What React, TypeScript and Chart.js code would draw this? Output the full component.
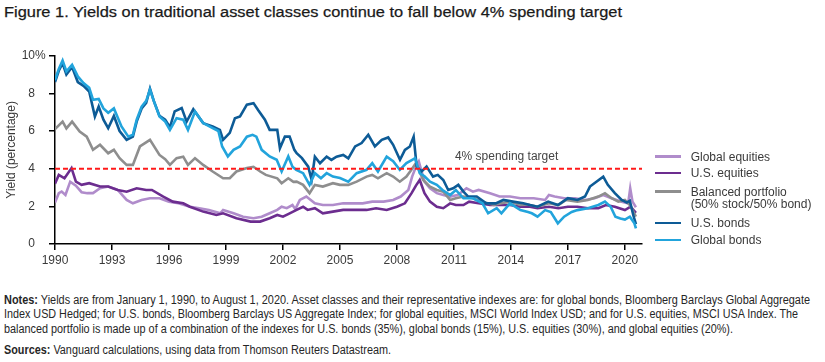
import React, { useEffect, useLayoutEffect, useRef } from "react";
import { Chart, registerables } from "chart.js";

Chart.register(...registerables);

// ---------- data (year, yield %) ----------
const yearTicks = [1990, 1993, 1996, 1999, 2002, 2005, 2008, 2011, 2014, 2017, 2020];
const yieldTicks = [0, 2, 4, 6, 8, 10];
const spendingTarget = 4;
const xStart = 1990;
const xEnd = 2020.9;

const globalEquities: [number, number][] = [
  [1990.0, 2.2], [1990.2, 2.7], [1990.35, 2.78], [1990.55, 2.6], [1990.8, 3.31], [1991.1, 3.1],
  [1991.4, 2.75], [1991.7, 2.7], [1992.0, 2.7], [1992.37, 2.96], [1992.8, 3.05], [1993.3, 2.87],
  [1993.77, 2.34], [1994.1, 2.16], [1994.56, 2.34], [1995.0, 2.43], [1995.5, 2.43], [1996.0, 2.25],
  [1996.5, 2.16], [1997.1, 1.98], [1997.6, 1.9], [1998.1, 1.81], [1998.7, 1.63], [1998.85, 1.81],
  [1999.4, 1.63], [1999.9, 1.45], [2000.45, 1.37], [2000.88, 1.45], [2001.3, 1.63], [2001.7, 1.81],
  [2001.93, 1.98], [2002.2, 1.9], [2002.5, 2.07], [2002.65, 1.85], [2002.89, 2.34], [2003.23, 2.52],
  [2003.68, 2.16], [2004.1, 2.07], [2004.63, 2.07], [2005.17, 2.16], [2005.7, 2.16], [2006.2, 2.16],
  [2006.7, 2.25], [2007.3, 2.25], [2007.8, 2.34], [2008.2, 2.52], [2008.6, 2.87], [2008.8, 3.58],
  [2009.0, 4.1], [2009.15, 4.38], [2009.45, 3.31], [2009.74, 2.96], [2010.1, 2.7], [2010.44, 2.6],
  [2010.8, 2.52], [2011.2, 2.6], [2011.66, 2.96], [2012.0, 2.78], [2012.3, 2.87], [2012.9, 2.7],
  [2013.4, 2.52], [2013.95, 2.52], [2014.5, 2.43], [2015.2, 2.43], [2015.8, 2.34], [2016.0, 2.6],
  [2016.3, 2.52], [2016.8, 2.43], [2017.37, 2.43], [2017.9, 2.34], [2018.4, 2.43], [2018.86, 2.6],
  [2019.3, 2.43], [2019.83, 2.25], [2020.17, 2.16], [2020.28, 2.96], [2020.4, 2.25], [2020.58, 1.95],
];

const usEquities: [number, number][] = [
  [1990.0, 3.2], [1990.2, 3.67], [1990.5, 3.49], [1990.87, 4.03], [1991.1, 3.31], [1991.4, 3.14],
  [1991.8, 3.23], [1992.37, 3.05], [1992.8, 3.05], [1993.3, 2.87], [1993.77, 2.78], [1994.3, 2.96],
  [1994.8, 2.87], [1995.1, 2.87], [1995.7, 2.52], [1996.2, 2.25], [1996.75, 2.16], [1997.1, 1.98],
  [1997.8, 1.72], [1998.5, 1.54], [1998.85, 1.63], [1999.55, 1.37], [2000.3, 1.19], [2000.8, 1.19],
  [2001.3, 1.37], [2001.7, 1.54], [2002.0, 1.45], [2002.3, 1.6], [2002.72, 1.81], [2003.06, 1.98],
  [2003.3, 1.81], [2003.68, 1.9], [2004.1, 1.63], [2004.63, 1.72], [2005.17, 1.81], [2005.7, 1.81],
  [2006.4, 1.81], [2006.9, 1.9], [2007.46, 1.81], [2008.0, 1.98], [2008.42, 2.16], [2008.77, 2.7],
  [2009.0, 3.1], [2009.2, 3.4], [2009.45, 2.7], [2009.74, 2.25], [2010.1, 1.98], [2010.44, 1.9],
  [2010.8, 2.16], [2011.1, 2.07], [2011.5, 2.07], [2011.8, 2.25], [2012.3, 2.16], [2012.9, 2.07],
  [2013.4, 2.07], [2013.95, 2.07], [2014.5, 1.98], [2015.0, 1.98], [2015.4, 1.9], [2016.0, 1.98],
  [2016.5, 1.9], [2017.0, 1.98], [2017.5, 1.98], [2018.05, 1.9], [2018.6, 1.9], [2019.0, 2.07],
  [2019.47, 1.98], [2020.0, 1.8], [2020.3, 1.98], [2020.58, 1.65],
];

const balancedPortfolio: [number, number][] = [
  [1990.0, 6.1], [1990.2, 6.3], [1990.4, 6.5], [1990.6, 6.14], [1990.9, 6.5], [1991.3, 5.97],
  [1991.67, 5.7], [1992.0, 5.0], [1992.37, 5.27], [1992.8, 4.82], [1993.1, 5.0], [1993.4, 4.56],
  [1993.77, 4.2], [1994.1, 4.2], [1994.47, 5.18], [1995.0, 5.53], [1995.5, 4.73], [1995.8, 4.5],
  [1996.05, 4.2], [1996.4, 4.56], [1996.75, 4.64], [1997.0, 4.2], [1997.37, 4.56], [1997.8, 4.2],
  [1998.3, 3.85], [1998.85, 3.49], [1999.2, 3.49], [1999.55, 3.85], [2000.1, 4.03], [2000.45, 4.1],
  [2000.8, 3.85], [2001.1, 3.67], [2001.7, 3.49], [2001.93, 3.23], [2002.28, 3.49], [2002.55, 3.3],
  [2002.72, 3.31], [2003.06, 3.14], [2003.4, 2.7], [2003.68, 3.14], [2004.1, 3.05], [2004.63, 3.23],
  [2005.0, 3.14], [2005.44, 3.14], [2005.88, 3.31], [2006.4, 3.58], [2006.7, 3.67], [2007.0, 3.49],
  [2007.46, 3.76], [2007.8, 3.58], [2008.15, 3.31], [2008.5, 3.58], [2008.8, 4.0], [2009.0, 4.3],
  [2009.38, 3.4], [2009.74, 3.05], [2010.1, 2.87], [2010.44, 2.78], [2010.8, 2.34], [2011.1, 2.43],
  [2011.5, 2.52], [2012.0, 2.43], [2012.5, 2.25], [2013.1, 2.07], [2013.5, 2.16], [2013.95, 2.25],
  [2014.5, 2.07], [2014.9, 2.1], [2015.4, 1.98], [2016.0, 2.16], [2016.5, 2.07], [2016.9, 2.34],
  [2017.5, 2.25], [2018.05, 2.34], [2018.6, 2.52], [2018.95, 2.7], [2019.3, 2.43], [2019.65, 2.25],
  [2020.0, 2.34], [2020.26, 2.07], [2020.58, 1.45],
];

const usBonds: [number, number][] = [
  [1990.0, 8.6], [1990.2, 9.2], [1990.4, 9.6], [1990.6, 9.0], [1990.9, 9.4], [1991.2, 8.6],
  [1991.5, 8.4], [1991.8, 8.1], [1992.1, 6.77], [1992.3, 7.3], [1992.55, 6.6], [1992.8, 6.15],
  [1993.1, 6.8], [1993.4, 6.0], [1993.77, 5.53], [1994.1, 5.7], [1994.3, 6.5], [1994.56, 7.2],
  [1994.8, 7.5], [1995.0, 8.25], [1995.2, 7.6], [1995.5, 6.8], [1995.8, 6.6], [1996.05, 6.2],
  [1996.3, 7.04], [1996.67, 7.22], [1996.93, 6.5], [1997.28, 7.16], [1997.8, 6.42], [1998.3, 6.24],
  [1998.68, 6.06], [1998.85, 5.53], [1999.2, 5.9], [1999.47, 6.68], [1999.74, 6.77], [2000.1, 7.4],
  [2000.45, 7.48], [2000.7, 7.1], [2001.05, 6.6], [2001.3, 6.06], [2001.7, 6.06], [2001.84, 5.09],
  [2002.1, 5.7], [2002.35, 5.7], [2002.6, 5.0], [2002.72, 4.82], [2003.0, 4.56], [2003.33, 4.11],
  [2003.51, 3.4], [2003.68, 4.64], [2003.95, 4.29], [2004.3, 4.64], [2004.55, 4.47], [2004.82, 4.64],
  [2005.17, 4.73], [2005.44, 4.55], [2005.8, 5.18], [2006.14, 5.36], [2006.49, 5.8], [2006.84, 5.18],
  [2007.2, 5.53], [2007.54, 5.66], [2007.8, 5.27], [2008.16, 4.47], [2008.42, 5.0], [2008.68, 5.18],
  [2008.88, 5.7], [2009.04, 4.11], [2009.3, 3.85], [2009.56, 4.11], [2009.9, 3.58], [2010.15, 3.67],
  [2010.44, 3.4], [2010.7, 2.87], [2010.96, 2.96], [2011.23, 3.14], [2011.5, 2.78], [2011.75, 2.52],
  [2012.2, 2.52], [2012.7, 2.16], [2013.2, 2.16], [2013.6, 2.34], [2014.1, 2.25], [2014.65, 2.16],
  [2015.0, 2.07], [2015.4, 1.98], [2015.96, 2.25], [2016.47, 2.07], [2017.0, 2.43], [2017.5, 2.34],
  [2017.9, 2.52], [2018.16, 3.05], [2018.5, 3.31], [2018.86, 3.58], [2019.1, 3.14], [2019.47, 2.7],
  [2019.83, 2.34], [2020.1, 2.2], [2020.26, 2.3], [2020.45, 1.5], [2020.58, 1.05],
];

const globalBonds: [number, number][] = [
  [1990.0, 8.7], [1990.2, 9.3], [1990.4, 9.75], [1990.6, 9.17], [1990.9, 9.52], [1991.2, 8.9],
  [1991.5, 8.55], [1991.8, 8.3], [1992.0, 7.66], [1992.3, 7.7], [1992.55, 7.2], [1992.8, 6.97],
  [1993.1, 7.2], [1993.5, 6.24], [1993.86, 5.7], [1994.1, 5.8], [1994.3, 6.6], [1994.56, 7.3],
  [1994.8, 7.6], [1995.0, 8.2], [1995.2, 7.6], [1995.5, 6.77], [1995.8, 6.5], [1996.05, 6.06],
  [1996.4, 6.68], [1996.75, 6.6], [1997.0, 6.06], [1997.37, 7.04], [1997.8, 6.42], [1998.3, 6.15],
  [1998.6, 6.0], [1998.8, 5.18], [1999.1, 4.65], [1999.4, 5.0], [1999.74, 5.18], [2000.1, 5.7],
  [2000.4, 5.8], [2000.6, 5.7], [2000.88, 5.0], [2001.3, 4.65], [2001.67, 4.47], [2001.93, 3.85],
  [2002.28, 4.65], [2002.5, 4.1], [2002.7, 3.94], [2003.06, 3.76], [2003.4, 3.14], [2003.68, 3.76],
  [2004.0, 3.49], [2004.3, 3.76], [2004.63, 3.58], [2005.0, 3.5], [2005.44, 3.31], [2005.88, 3.76],
  [2006.4, 3.94], [2006.7, 4.29], [2007.0, 3.85], [2007.46, 4.64], [2007.8, 4.4], [2008.15, 3.94],
  [2008.5, 4.3], [2008.85, 4.5], [2008.95, 4.56], [2009.2, 3.76], [2009.45, 3.6], [2009.74, 3.31],
  [2010.1, 3.14], [2010.4, 2.87], [2010.8, 2.6], [2011.1, 2.87], [2011.5, 2.43], [2012.0, 2.43],
  [2012.5, 2.16], [2012.8, 1.63], [2013.25, 1.9], [2013.5, 1.63], [2013.95, 2.16], [2014.5, 1.8],
  [2014.9, 1.7], [2015.1, 1.63], [2015.4, 1.45], [2015.8, 1.8], [2016.1, 1.7], [2016.47, 1.1],
  [2016.8, 1.45], [2017.2, 1.7], [2017.5, 1.8], [2018.05, 1.9], [2018.6, 2.07], [2018.95, 2.25],
  [2019.25, 1.98], [2019.5, 1.45], [2019.76, 1.35], [2020.0, 1.3], [2020.26, 1.45], [2020.5, 1.1],
  [2020.58, 0.83],
];

// ---------- styles ----------
const C_GLOBAL_EQ = "#b08ccb";
const C_US_EQ = "#6c2d8f";
const C_BALANCED = "#8e8e8e";
const C_US_BONDS = "#0d5b96";
const C_GLOBAL_BONDS = "#22a4dc";
const C_TARGET = "#ff1a1a";
const TEXT = "#3a3a3a";
const FONT = "'Liberation Sans', Arial, sans-serif";

const legendItems = [
  { lines: ["Global equities"], color: C_GLOBAL_EQ, top: 156.7 },
  { lines: ["U.S. equities"], color: C_US_EQ, top: 173 },
  { lines: ["Balanced portfolio", "(50% stock/50% bond)"], color: C_BALANCED, top: 191.7 },
  { lines: ["U.S. bonds"], color: C_US_BONDS, top: 223 },
  { lines: ["Global bonds"], color: C_GLOBAL_BONDS, top: 240 },
];

const toXY = (arr: [number, number][]) => arr.map(([x, y]) => ({ x, y }));

const overlayPlugin = {
  id: "overlay",
  afterDraw(chart: any) {
    const { ctx, scales, chartArea } = chart;
    const ys = scales.y;
    const xs = scales.x;
    ctx.save();
    ctx.font = `12px ${FONT}`;
    ctx.fillStyle = TEXT;
    ctx.textAlign = "left";
    ctx.textBaseline = "middle";
    ctx.fillText("%", chartArea.left - 20, ys.getPixelForValue(10));
    ctx.fillStyle = "#444";
    ctx.fillText("4% spending target", xs.getPixelForValue(2011.05), ys.getPixelForValue(spendingTarget) - 11.5);
    ctx.restore();
  },
};

// Text that is horizontally scaled to a target width (the reference uses a condensed face)
function FitText({ children, width, style }: { children: any; width: number; style: any }) {
  const ref = useRef<HTMLDivElement | null>(null);
  useLayoutEffect(() => {
    const el = ref.current;
    if (!el) return;
    el.style.transform = "none";
    const natural = el.getBoundingClientRect().width;
    if (natural > 0) el.style.transform = `scaleX(${width / natural})`;
  }, [width]);
  return (
    <div
      ref={ref}
      style={{ position: "absolute", whiteSpace: "nowrap", transformOrigin: "0 50%", display: "inline-block", ...style }}
    >
      {children}
    </div>
  );
}

function ChartCanvas() {
  const ref = useRef<HTMLCanvasElement | null>(null);
  useEffect(() => {
    if (!ref.current) return;
    const line = (label: string, data: [number, number][], color: string) => ({
      label,
      data: toXY(data),
      borderColor: color,
      backgroundColor: color,
      borderWidth: 2.6,
      pointRadius: 0,
      tension: 0,
      fill: false,
    });
    const chart = new Chart(ref.current, {
      type: "line",
      data: {
        datasets: [
          {
            label: "4% spending target",
            data: [{ x: xStart, y: spendingTarget }, { x: xEnd, y: spendingTarget }],
            borderColor: C_TARGET,
            borderWidth: 2,
            borderDash: [5, 3],
            pointRadius: 0,
            fill: false,
          },
          line("Global bonds", globalBonds, C_GLOBAL_BONDS),
          line("U.S. bonds", usBonds, C_US_BONDS),
          line("Balanced portfolio (50% stock/50% bond)", balancedPortfolio, C_BALANCED),
          line("U.S. equities", usEquities, C_US_EQ),
          line("Global equities", globalEquities, C_GLOBAL_EQ),
        ] as any,
      },
      options: {
        animation: false,
        responsive: false,
        maintainAspectRatio: false,
        layout: { padding: { left: 0, top: 15.7, right: 183, bottom: 0 } },
        plugins: { legend: { display: false }, tooltip: { enabled: false }, title: { display: false } },
        scales: {
          x: {
            type: "linear",
            min: xStart,
            max: xEnd,
            afterBuildTicks: (s: any) => {
              s.ticks = yearTicks.map((v) => ({ value: v }));
            },
            afterFit: (s: any) => {
              s.height = 26;
            },
            ticks: {
              autoSkip: false,
              maxRotation: 0,
              padding: 3,
              color: TEXT,
              font: { family: FONT, size: 12 },
              callback: (v: any) => String(v),
            },
            grid: { display: true, drawOnChartArea: false, drawTicks: true, tickLength: 6, color: "#000", lineWidth: 1.5 },
            border: { display: true, color: "#000", width: 1.5 },
          },
          y: {
            min: 0,
            max: 10,
            afterBuildTicks: (s: any) => {
              s.ticks = yieldTicks.map((v) => ({ value: v }));
            },
            afterFit: (s: any) => {
              s.width = 55;
              s.paddingTop = 7;
              s.paddingBottom = 7;
            },
            ticks: {
              padding: 14,
              color: TEXT,
              font: { family: FONT, size: 12 },
              callback: (v: any) => String(v),
            },
            title: {
              display: true,
              text: "Yield (percentage)",
              color: TEXT,
              font: { family: FONT, size: 12 },
              padding: { top: 4, bottom: 4 },
            },
            grid: { display: true, drawOnChartArea: false, drawTicks: true, tickLength: 6, color: "#000", lineWidth: 1.5 },
            border: { display: true, color: "#000", width: 1.5 },
          },
        },
      } as any,
      plugins: [overlayPlugin],
    });
    return () => chart.destroy();
  }, []);
  return (
    <canvas
      ref={ref}
      width={825}
      height={230}
      style={{ position: "absolute", left: 0, top: 40, width: 825, height: 230 }}
    />
  );
}

const noteStyle = { fontFamily: FONT, fontSize: 12, lineHeight: "14px", color: "#262626", left: 3.5 };

export default function App() {
  return (
    <div style={{ position: "absolute", left: 0, top: 0, width: 825, height: 362, background: "#fff", overflow: "hidden" }}>
      <FitText
        width={618}
        style={{ left: 3.5, top: 3, fontFamily: FONT, fontSize: 15.5, fontWeight: 500, color: "#1a1a1a", lineHeight: "18px", WebkitTextStroke: "0.25px #1a1a1a" }}
      >
        Figure 1. Yields on traditional asset classes continue to fall below 4% spending target
      </FitText>
      <ChartCanvas />
      {legendItems.map((it, i) => (
        <React.Fragment key={i}>
          <div
            style={{
              position: "absolute",
              left: 655,
              top: it.top - 1.25,
              width: 26,
              height: 2.5,
              background: it.color,
            }}
          />
          <div
            style={{
              position: "absolute",
              left: 690.7,
              top: it.top - 7,
              fontFamily: FONT,
              fontSize: 12,
              color: TEXT,
              whiteSpace: "nowrap",
            }}
          >
            {it.lines.map((l, j) => (
              <div key={j} style={{ height: 12.7, lineHeight: "14px" }}>
                {l}
              </div>
            ))}
          </div>
        </React.Fragment>
      ))}
      <FitText width={806} style={{ ...noteStyle, top: 293 }}>
        <b>Notes:</b> Yields are from January 1, 1990, to August 1, 2020. Asset classes and their representative indexes are: for global bonds, Bloomberg Barclays Global Aggregate
      </FitText>
      <FitText width={794} style={{ ...noteStyle, top: 307.3 }}>
        Index USD Hedged; for U.S. bonds, Bloomberg Barclays US Aggregate Index; for global equities, MSCI World Index USD; and for U.S. equities, MSCI USA Index. The
      </FitText>
      <FitText width={729} style={{ ...noteStyle, top: 322 }}>
        balanced portfolio is made up of a combination of the indexes for U.S. bonds (35%), global bonds (15%), U.S. equities (30%), and global equities (20%).
      </FitText>
      <FitText width={387} style={{ ...noteStyle, top: 343 }}>
        <b>Sources:</b> Vanguard calculations, using data from Thomson Reuters Datastream.
      </FitText>
    </div>
  );
}
